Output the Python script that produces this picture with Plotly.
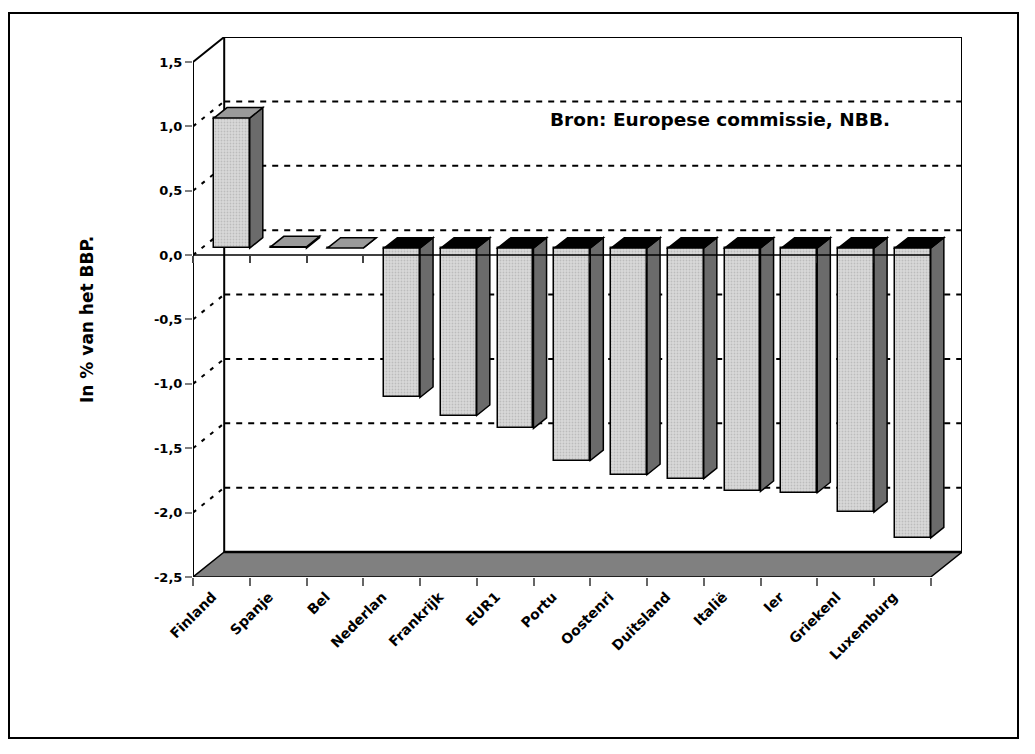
import plotly.graph_objects as go

# ---- data ----
countries = ["Finland", "Spanje", "Bel", "Nederlan", "Frankrijk", "EUR1", "Portu",
             "Oostenri", "Duitsland", "Italië", "Ier", "Griekenl", "Luxemburg"]
values = [1.01, 0.01, 0.0, -1.16, -1.30, -1.40, -1.65, -1.76, -1.79, -1.89, -1.90, -2.05, -2.25]
ytick_vals = [-2.5, -2.0, -1.5, -1.0, -0.5, 0.0, 0.5, 1.0, 1.5]
ytick_text = ["-2,5", "-2,0", "-1,5", "-1,0", "-0,5", "0,0", "0,5", "1,0", "1,5"]
grid_vals = [-2.0, -1.5, -1.0, -0.5, 0.0, 0.5, 1.0]
source_text = "Bron: Europese commissie, NBB."
y_title = "In % van het BBP."

# ---- 3D projection parameters (in axis units) ----
N = len(countries)
YMIN, YMAX = -2.5, 1.5
DX, DY = 0.55, 0.194          # full depth offset
F0, F1 = 0.28, 0.70           # bar front / back depth fraction
BAR_W = 0.63
X0, X1 = -0.5, N - 0.5

FONT = "DejaVu Sans"

fig = go.Figure()

idx = list(range(N))
centers = [i + F0 * DX + 0.03 for i in idx]
b0 = F0 * DY

fig.add_trace(go.Bar(
    x=centers, y=values, base=[b0] * N, width=BAR_W,
    marker=dict(color="#d9d9d9", line=dict(color="black", width=1.5),
                pattern=dict(shape=".", fgcolor="#a0a0a0", size=3, solidity=0.3)),
    hoverinfo="skip", showlegend=False,
))

shapes = []
def path(pts):
    return "M " + " L ".join(f"{x},{y}" for x, y in pts) + " Z"

# back wall
shapes.append(dict(type="path", layer="below", xref="x", yref="y",
                   path=path([(X0 + DX, YMIN + DY), (X0 + DX, YMAX + DY), (X1 + DX, YMAX + DY), (X1 + DX, YMIN + DY)]),
                   fillcolor="white", line=dict(color="black", width=2)))
# gridlines on back wall and left wall
for v in grid_vals:
    shapes.append(dict(type="line", layer="below", xref="x", yref="y",
                       x0=X0 + DX, x1=X1 + DX, y0=v + DY, y1=v + DY,
                       line=dict(color="black", width=2, dash="6px,6px")))
    shapes.append(dict(type="line", layer="below", xref="x", yref="y",
                       x0=X0, x1=X0 + DX, y0=v, y1=v + DY,
                       line=dict(color="black", width=2, dash="4px,7px")))
# left wall edges
shapes.append(dict(type="line", layer="below", xref="x", yref="y",
                   x0=X0, x1=X0 + DX, y0=YMAX, y1=YMAX + DY, line=dict(color="black", width=2)))
shapes.append(dict(type="line", layer="below", xref="x", yref="y",
                   x0=X0, x1=X0, y0=YMIN, y1=YMAX, line=dict(color="black", width=2)))
# floor
shapes.append(dict(type="path", layer="below", xref="x", yref="y",
                   path=path([(X0, YMIN), (X1, YMIN), (X1 + DX, YMIN + DY), (X0 + DX, YMIN + DY)]),
                   fillcolor="#808080", line=dict(color="black", width=1.5)))
shapes.append(dict(type="line", layer="below", xref="x", yref="y",
                   x0=X0 + DX, x1=X1 + DX, y0=YMIN + DY, y1=YMIN + DY, line=dict(color="black", width=2.5)))

# bar side and top faces
ddx, ddy = (F1 - F0) * DX, (F1 - F0) * DY
for c, v in zip(centers, values):
    L, R = c - BAR_W / 2, c + BAR_W / 2
    shapes.append(dict(type="path", layer="above", xref="x", yref="y",
                       path=path([(R, b0), (R, b0 + v), (R + ddx, b0 + v + ddy), (R + ddx, b0 + ddy)]),
                       fillcolor="#6b6b6b", line=dict(color="black", width=1.5)))
    yt = b0 + max(v, 0)
    shapes.append(dict(type="path", layer="above", xref="x", yref="y",
                       path=path([(L, yt), (R, yt), (R + ddx, yt + ddy), (L + ddx, yt + ddy)]),
                       fillcolor=("black" if v < 0 else "#9a9a9a"), line=dict(color="black", width=1.5)))

# zero axis line on the front plane
shapes.append(dict(type="line", layer="above", xref="x", yref="y",
                   x0=X0, x1=X1, y0=0, y1=0, line=dict(color="black", width=1.5)))

# outer frame
W, H = 1035, 754
ml, mr, mt, mb = 193, 73, 37, 177
pw, ph = W - ml - mr, H - mt - mb
def px_to_paper(px, py):
    return (px - ml) / pw, (H - mb - py) / ph
fx0, fy0 = px_to_paper(9, 738)
fx1, fy1 = px_to_paper(1018, 13)
shapes.append(dict(type="rect", xref="paper", yref="paper", x0=fx0, x1=fx1, y0=fy0, y1=fy1,
                   line=dict(color="black", width=2), fillcolor="rgba(0,0,0,0)"))

tx, ty = px_to_paper(87, 320)
annotations = [
    dict(text=source_text, xref="x", yref="y", x=8.79, y=1.05, showarrow=False,
         xanchor="center", yanchor="middle",
         font=dict(family=FONT, size=18.5, color="black", weight="bold")),
    dict(text=y_title, xref="paper", yref="paper", x=tx, y=ty, showarrow=False,
         textangle=-90, xanchor="center", yanchor="middle",
         font=dict(family=FONT, size=17, color="black", weight="bold")),
]

xr = [X0, X1 + DX]
fig.update_layout(
    width=W, height=H, margin=dict(l=ml, r=mr, t=mt, b=mb, pad=0),
    paper_bgcolor="white", plot_bgcolor="white",
    shapes=shapes, annotations=annotations, showlegend=False, bargap=0,
    xaxis=dict(range=xr, tickvals=idx, ticktext=countries, tickangle=-45, ticks="",
               ticklabelshift=-9, ticklabelstandoff=8,
               showgrid=False, zeroline=False, showline=False,
               tickfont=dict(family=FONT, size=14, color="black", weight="bold")),
    xaxis2=dict(range=xr, overlaying="x", anchor="y", side="bottom",
                tickvals=[i - 0.5 for i in range(N + 1)], ticks="outside", ticklen=8,
                tickcolor="#666666", tickwidth=1.5, showticklabels=False,
                showgrid=False, zeroline=False, showline=False),
    xaxis3=dict(range=xr, overlaying="x", anchor="free", position=(0 - YMIN) / (YMAX + DY - YMIN),
                tickvals=[i - 0.5 for i in range(N + 1)], ticks="outside", ticklen=7,
                tickcolor="#444444", tickwidth=1.5, showticklabels=False,
                showgrid=False, zeroline=False, showline=False),
    yaxis=dict(range=[YMIN, YMAX + DY], tickvals=ytick_vals, ticktext=ytick_text,
               ticks="outside", ticklen=7, tickcolor="#808080", tickwidth=2,
               showgrid=False, zeroline=False, showline=False,
               tickfont=dict(family=FONT, size=13, color="black", weight="bold")),
)
# invisible traces to activate overlay axes
fig.add_trace(go.Scatter(x=[X0], y=[YMIN], xaxis="x2", mode="markers",
                         marker=dict(opacity=0), hoverinfo="skip", showlegend=False))
fig.add_trace(go.Scatter(x=[X0], y=[YMIN], xaxis="x3", mode="markers",
                         marker=dict(opacity=0), hoverinfo="skip", showlegend=False))

fig.write_html("out.html")
